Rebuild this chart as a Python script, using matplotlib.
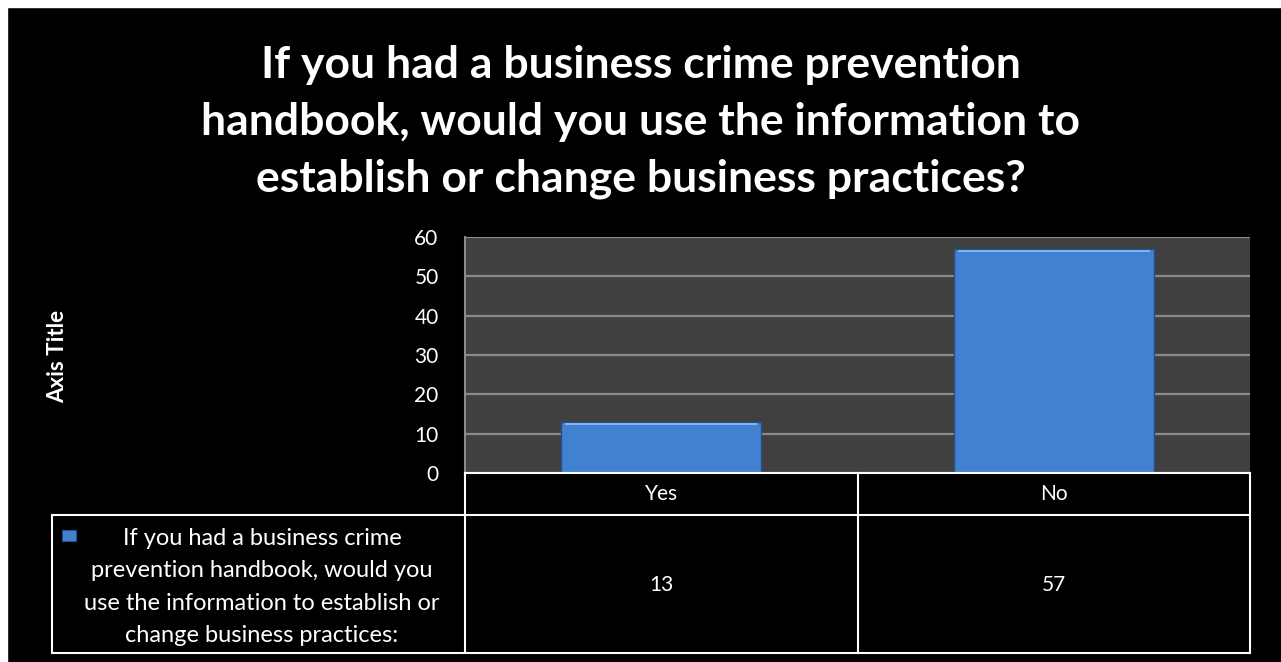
import matplotlib
matplotlib.use("Agg")
import matplotlib.pyplot as plt
from matplotlib.patches import Rectangle
from matplotlib.lines import Line2D

# data
categories = ["Yes", "No"]
values = [13, 57]
yticks = [0, 10, 20, 30, 40, 50, 60]
title = ("If you had a business crime prevention\n"
         "handbook, would you use the information to\n"
         "establish or change business practices?")
series_name = ("If you had a business crime\n"
               "prevention handbook, would you\n"
               "use the information to establish or\n"
               "change business practices:")

W, H = 1281, 662
fig = plt.figure(figsize=(W / 100, H / 100), dpi=100, facecolor="black")
plt.rcParams["font.family"] = ["Lato", "DejaVu Sans"]

# thin white border on top and left, like the screenshot
fig.patches.append(Rectangle((0, 1 - 7 / H), 1, 7 / H, transform=fig.transFigure,
                             color="white", zorder=0))
fig.patches.append(Rectangle((0, 0), 7 / W, 1, transform=fig.transFigure,
                             color="white", zorder=0))

def fx(px):
    return px / W

def fy(py):
    return 1 - py / H

# plot area
x0, x1, y0, y1 = 465, 1250, 237, 473
ax = fig.add_axes([fx(x0), fy(y1), fx(x1 - x0), (y1 - y0) / H])
ax.set_facecolor("#404040")
pos = list(range(len(categories)))
ax.bar(pos, values, width=0.51, color="#4281d0", edgecolor="#244f8a", linewidth=1, zorder=3)
# bevel highlight on top of each bar
ax.bar(pos, [0.7] * len(values), bottom=[v - 0.9 for v in values], width=0.49,
       color="#82b4ee", linewidth=0, zorder=4)
ax.set_xlim(-0.5, len(categories) - 0.5)
ax.set_ylim(0, 60)
ax.set_yticks(yticks)
ax.set_yticklabels([str(t) for t in yticks], color="white", fontsize=15)
ax.tick_params(axis="y", length=0, pad=19)
ax.set_xticks([])
ax.grid(axis="y", color="#8a8a8a", linewidth=1.6, zorder=1)
for s in ["top", "right", "bottom"]:
    ax.spines[s].set_visible(False)
ax.spines["left"].set_color("#8a8a8a")
ax.spines["left"].set_linewidth(1.5)

fig.text(fx(58), fy(356), "Axis Title", rotation=90, color="white", fontsize=16,
         fontweight="bold", ha="center", va="center")

fig.text(0.5, fy(122), title, color="white", fontsize=32, fontweight="bold",
         ha="center", va="center", linespacing=1.5)

# data table under the chart
lw = 1.5
tl, tmid, row1, row2 = 52, 858, 515, 653
segs = [
    ((x0, x1), (y1, y1)),
    ((x0, x0), (y1, row2)),
    ((tmid, tmid), (y1, row2)),
    ((x1, x1), (y1, row2)),
    ((tl, x1), (row1, row1)),
    ((tl, x1), (row2, row2)),
    ((tl, tl), (row1, row2)),
]
for xs, ys in segs:
    fig.add_artist(Line2D([fx(x) for x in xs], [fy(y) for y in ys],
                          color="white", linewidth=lw))

col_w = (x1 - x0) / len(categories)
for i, (c, v) in enumerate(zip(categories, values)):
    cx = x0 + col_w * (i + 0.5)
    fig.text(fx(cx), fy(494), c, color="white", fontsize=15, ha="center", va="center")
    fig.text(fx(cx), fy(585), str(v), color="white", fontsize=15, ha="center", va="center")

fig.patches.append(Rectangle((fx(62), fy(541)), fx(14), 11 / H, transform=fig.transFigure,
                             facecolor="#4281d0", edgecolor="#244f8a", linewidth=0.8))
fig.text(fx(262), fy(587), series_name, color="white", fontsize=17, ha="center",
         va="center", linespacing=1.65)

fig.savefig("out.png", dpi=100, facecolor="black")
